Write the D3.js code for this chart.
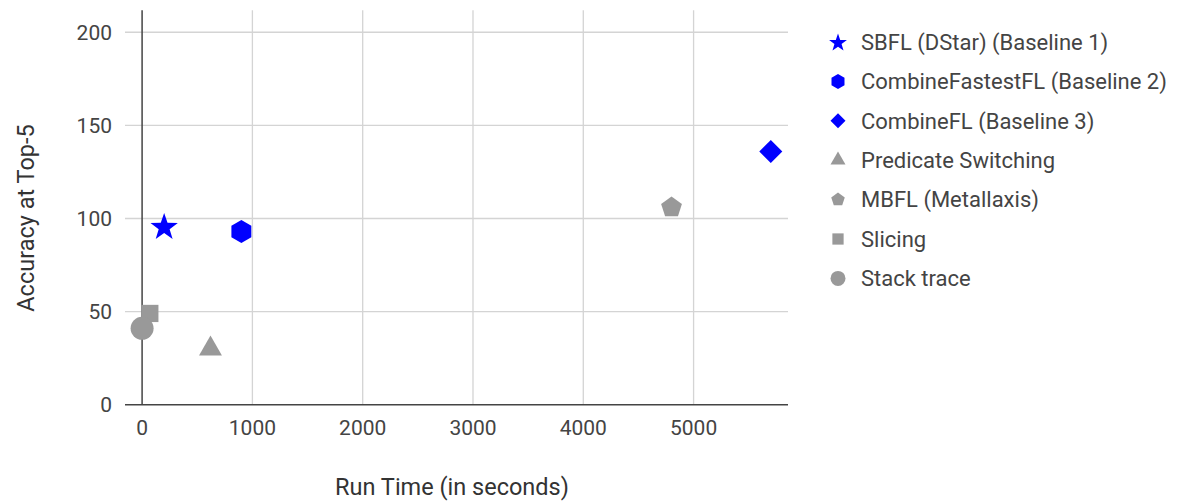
<!DOCTYPE html>
<html>
<head>
<meta charset="utf-8">
<script src="https://cdn.jsdelivr.net/npm/d3@7"></script>
<style>
  body { margin: 0; background: #fff; }
  svg { font-family: Roboto, "Noto Sans", sans-serif; }
</style>
</head>
<body>
<svg class="svg"></svg>
<script>
// data
const seriesNames = [
  "SBFL (DStar) (Baseline 1)",
  "CombineFastestFL (Baseline 2)",
  "CombineFL (Baseline 3)",
  "Predicate Switching",
  "MBFL (Metallaxis)",
  "Slicing",
  "Stack trace"
];
const runTimes = [200, 900, 5700, 620, 4800, 70, 0];
const accuracies = [96, 93, 136, 30, 106, 49, 41];
const shapes = ["star", "hexagon", "diamond", "triangle", "pentagon", "square", "circle"];
const colors = ["#0000ff", "#0000ff", "#0000ff", "#999999", "#999999", "#999999", "#999999"];
const xTicks = [0, 1000, 2000, 3000, 4000, 5000];
const yTicks = [0, 50, 100, 150, 200];

const width = 1180, height = 503;

const svg = d3.select(".svg")
  .attr("width", width)
  .attr("height", height);

const x = d3.scaleLinear().domain([-155, 5856]).range([125, 788]);
const y = d3.scaleLinear().domain([0, 211.8]).range([404.7, 10.3]);

// builds a regular polygon path centered on 0,0
function polygon(n, r, rot) {
  const pts = d3.range(n).map(i => {
    const a = rot + i * 2 * Math.PI / n;
    return [r * Math.cos(a), r * Math.sin(a)];
  });
  return "M" + pts.map(p => p.join(",")).join("L") + "Z";
}

function star(r) {
  const pts = d3.range(10).map(i => {
    const rr = i % 2 === 0 ? r : r * 0.4;
    const a = -Math.PI / 2 + i * Math.PI / 5;
    return [rr * Math.cos(a), rr * Math.sin(a) + r * 0.1];
  });
  return "M" + pts.map(p => p.join(",")).join("L") + "Z";
}

function shapePath(shape, s) {
  switch (shape) {
    case "star": return star(s * 1.25);
    case "hexagon": return polygon(6, s * 1.0, -Math.PI / 2);
    case "diamond": return polygon(4, s * 1.0, 0);
    case "triangle": return polygon(3, s * 1.15, -Math.PI / 2);
    case "pentagon": return polygon(5, s * 0.95, -Math.PI / 2);
    case "square": return `M${-s * 0.75},${-s * 0.75}h${s * 1.5}v${s * 1.5}h${-s * 1.5}Z`;
    case "circle": return `M${s},0A${s},${s} 0 1,1 ${-s},0A${s},${s} 0 1,1 ${s},0Z`;
  }
}

const g = svg.append("g");

// gridlines
g.selectAll("line.vgrid")
  .data(xTicks.filter(d => d !== 0))
  .join("line")
  .attr("class", "vgrid")
  .attr("x1", d => x(d)).attr("x2", d => x(d))
  .attr("y1", y.range()[1]).attr("y2", y(0))
  .attr("stroke", "#d4d4d4")
  .attr("stroke-width", 1.3);

g.selectAll("line.hgrid")
  .data(yTicks.filter(d => d !== 0))
  .join("line")
  .attr("class", "hgrid")
  .attr("x1", x.range()[0]).attr("x2", x.range()[1])
  .attr("y1", d => y(d)).attr("y2", d => y(d))
  .attr("stroke", "#d4d4d4")
  .attr("stroke-width", 1.3);

// baseline axes
g.append("line")
  .attr("x1", x(0)).attr("x2", x(0))
  .attr("y1", y.range()[1]).attr("y2", y(0))
  .attr("stroke", "#444").attr("stroke-width", 1.5);
g.append("line")
  .attr("x1", x.range()[0]).attr("x2", x.range()[1])
  .attr("y1", y(0)).attr("y2", y(0))
  .attr("stroke", "#444").attr("stroke-width", 1.5);

// tick labels
g.selectAll("text.xtick")
  .data(xTicks)
  .join("text")
  .attr("class", "xtick")
  .attr("x", d => x(d))
  .attr("y", 428)
  .attr("dy", "0.35em")
  .attr("text-anchor", "middle")
  .attr("fill", "#444")
  .style("font-size", "21px")
  .text(d => d);

g.selectAll("text.ytick")
  .data(yTicks)
  .join("text")
  .attr("class", "ytick")
  .attr("x", 112)
  .attr("y", d => y(d))
  .attr("dy", "0.35em")
  .attr("text-anchor", "end")
  .attr("fill", "#444")
  .style("font-size", "21px")
  .text(d => d);

// axis titles
svg.append("text")
  .attr("x", 452)
  .attr("y", 487)
  .attr("dy", "0.35em")
  .attr("text-anchor", "middle")
  .attr("fill", "#333")
  .style("font-size", "23.5px")
  .text("Run Time (in seconds)");

svg.append("text")
  .attr("transform", "translate(26,218) rotate(-90)")
  .attr("dy", "0.35em")
  .attr("text-anchor", "middle")
  .attr("fill", "#333")
  .style("font-size", "23.5px")
  .text("Accuracy at Top-5");

// points
const points = seriesNames.map((name, i) => ({
  name, shape: shapes[i], color: colors[i], rt: runTimes[i], acc: accuracies[i]
}));

g.selectAll("path.point")
  .data(points)
  .join("path")
  .attr("class", "point")
  .attr("transform", d => `translate(${x(d.rt)},${y(d.acc)})`)
  .attr("d", d => shapePath(d.shape, 11.5))
  .attr("fill", d => d.color);

// legend
const legend = svg.append("g").attr("transform", "translate(838,42)");
const item = legend.selectAll("g.item")
  .data(points)
  .join("g")
  .attr("class", "item")
  .attr("transform", (d, i) => `translate(0,${i * 39.4})`);

item.append("path")
  .attr("d", d => shapePath(d.shape, 7.5))
  .attr("fill", d => d.color);

item.append("text")
  .attr("x", 23)
  .attr("dy", "0.35em")
  .attr("fill", "#444")
  .style("font-size", "22px")
  .text(d => d.name);
</script>
</body>
</html>
